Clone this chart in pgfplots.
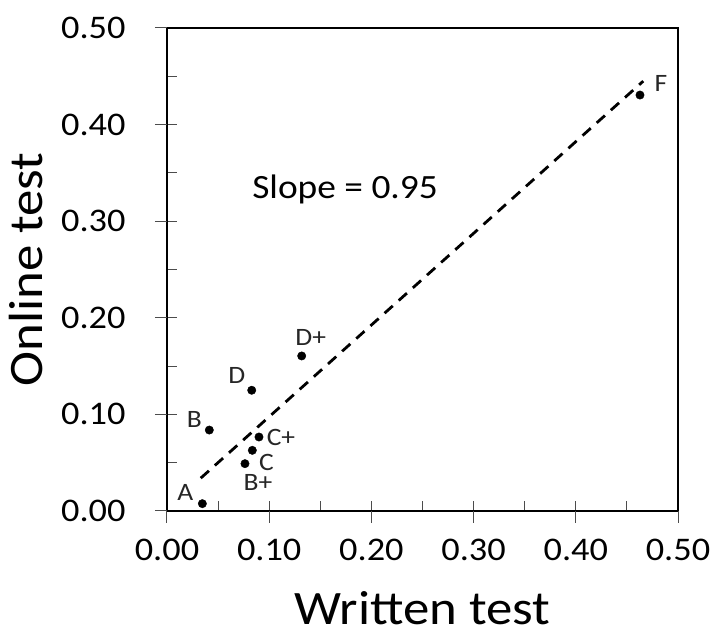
\documentclass[border=0pt]{standalone}
\usepackage{pgfplots}
\usepackage{fontspec}
\setmainfont{Carlito}[FakeStretch=1.1]
\pgfplotsset{compat=1.18}

\begin{document}
\begin{tikzpicture}
\begin{axis}[
    scale only axis,
    width=511pt, height=483pt,
    xmin=0, xmax=0.5, ymin=0, ymax=0.5,
    xtick={0,0.1,...,0.5}, ytick={0,0.1,...,0.5},
    minor tick num=1,
    tick align=inside,
    xtick pos=left, ytick pos=left,
    major tick length=10pt, minor tick length=10pt,
    extra x ticks={0,0.1,...,0.5}, extra y ticks={0,0.1,...,0.5},
    extra x tick labels={}, extra y tick labels={},
    extra tick style={tick align=outside, major tick length=12pt},
    every tick/.style={gray!60!black, line width=1pt},
    axis line style={line width=2.5pt},
    /pgf/number format/.cd, fixed, fixed zerofill, precision=2, assume math mode=true,
    /pgfplots/.cd,
    ticklabel style={font=\fontsize{33}{36}\selectfont},
    xticklabel style={yshift=-25pt},
    yticklabel style={xshift=-38pt},
    xlabel={Written test}, ylabel={Online test},
    label style={font=\fontsize{48}{52}\selectfont},
    xlabel style={yshift=-11pt},
    ylabel style={yshift=-1pt},
]
% trend line
\addplot[black, line width=2.8pt, dash pattern=on 11pt off 8pt] coordinates {(0.033,0.034) (0.466,0.445)};

\addplot[only marks, mark=*, mark size=4.2pt, black,
    visualization depends on={\thisrow{dx}\as\dx},
    visualization depends on={\thisrow{dy}\as\dy},
    nodes near coords={\fontsize{25}{28}\selectfont\pgfplotspointmeta},
    point meta=explicit symbolic,
    every node near coord/.append style={anchor=center, xshift=\dx pt, yshift=\dy pt, text=black!85}]
table[meta=lbl] {
x      y      lbl dx  dy
0.0346 0.0076 A  -17  11
0.0414 0.0838 B  -15  11
0.0763 0.0490 B+  13 -19
0.0835 0.0628 C   14 -12
0.0900 0.0766 C+  22  0
0.0829 0.1250 D  -15  15
0.1318 0.1605 D+   9  18
0.4628 0.4306 F   21  12
};

\node[anchor=west, font=\fontsize{34}{40}\selectfont] at (axis cs:0.080,0.333) {Slope = 0.95};
\end{axis}
\pgfresetboundingbox
\path[use as bounding box] ([xshift=-167pt,yshift=-127pt]current axis.south west) rectangle ([xshift=33pt,yshift=28pt]current axis.north east);
\end{tikzpicture}
\end{document}
